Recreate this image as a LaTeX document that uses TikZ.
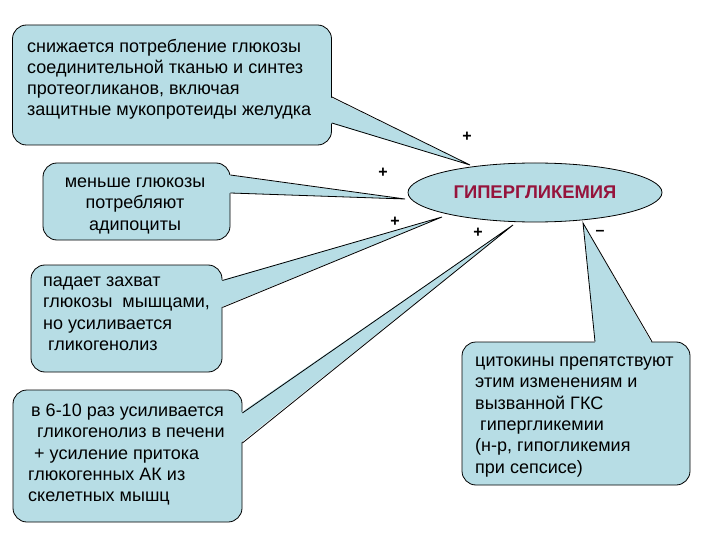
\documentclass[tikz,border=0pt]{standalone}
\usepackage{fontspec}
\setmainfont{Liberation Sans}
\usetikzlibrary{shapes.geometric,calc}
\definecolor{boxfill}{RGB}{183,221,229}
\definecolor{hypred}{RGB}{150,20,60}
\begin{document}
\begin{tikzpicture}[x=1pt,y=-1pt,
  callbox/.style={draw=black,line width=0.8pt,fill=boxfill,rounded corners=14pt,inner sep=0pt},
  txt/.style={font=\fontsize{18}{21.3}\selectfont,align=left,inner sep=0pt,anchor=base west},
  tailfill/.style={fill=boxfill},
  tailline/.style={draw=black,line width=0.8pt,line join=miter},
  sign/.style={font=\fontsize{16}{16}\selectfont\bfseries,inner sep=0pt}]
\useasboundingbox[fill=white] (0,0) rectangle (720,540);

% ellipse
\node[ellipse,draw=black,line width=0.8pt,fill=boxfill,minimum width=254pt,minimum height=59pt,inner sep=0pt,
  font=\fontsize{18.4}{18.4}\selectfont\bfseries,text=hypred] (hyp) at (535,192.5) {ГИПЕРГЛИКЕМИЯ};

% boxes
\node[callbox,minimum width=319pt,minimum height=120pt] (b1) at (172,85) {};
\node[callbox,minimum width=187pt,minimum height=77pt] (b2) at (136.5,201.5) {};
\node[callbox,minimum width=191pt,minimum height=107pt] (b3) at (126.5,318.5) {};
\node[callbox,minimum width=229pt,minimum height=132pt] (b4) at (127.5,456) {};
\node[callbox,minimum width=228pt,minimum height=143pt] (b5) at (576,413.5) {};

% tail coordinates
\coordinate (t1) at (470,165);
\coordinate (t2) at (405,199);
\coordinate (t3) at (442,217);
\coordinate (t4) at (513,225);
\coordinate (t5) at (583,223);
\coordinate (b1a) at ($(b1.east)+(0,12)$);
\coordinate (b1b) at ($(b1.east)+(0,38)$);
\coordinate (b2a) at ($(b2.east)+(0,-26.5)$);
\coordinate (b2b) at ($(b2.east)+(0,-8.5)$);
\coordinate (b3a) at ($(b3.east)+(0,-38)$);
\coordinate (b3b) at ($(b3.east)+(0,-11)$);
\coordinate (b4a) at ($(b4.east)+(0,-43)$);
\coordinate (b4b) at ($(b4.east)+(0,-13)$);
\coordinate (b5a) at ($(b5.north)+(19,0)$);
\coordinate (b5b) at ($(b5.north)+(76,0)$);

% tails
\foreach \a/\t/\b in {b1a/t1/b1b,b2a/t2/b2b,b3a/t3/b3b,b4a/t4/b4b}{
  \fill[tailfill] ($(\a)+(-2,0)$) -- (\t) -- ($(\b)+(-2,0)$) -- cycle;
  \draw[tailline] (\a) -- (\t) -- (\b);
}
\fill[tailfill] ($(b5a)+(0,2)$) -- (t5) -- ($(b5b)+(0,2)$) -- cycle;
\draw[tailline] (b5a) -- (t5) -- (b5b);

% texts (anchored at the baseline of the last line)
\node[txt] (x1) at (27,116) {снижается потребление глюкозы\\соединительной тканью и синтез\\протеогликанов, включая\\защитные мукопротеиды желудка};
\node[txt,align=center,anchor=base] (x2) at (135,230.2) {меньше глюкозы\\потребляют\\адипоциты};
\node[txt] (x3) at (43,350.5) {падает захват\\глюкозы\ \ мышцами,\\но усиливается\\\hspace*{5pt}гликогенолиз};
\node[txt] (x4) at (28,501.8) {\hspace*{3pt}в 6-10 раз усиливается\\\hspace*{9pt}гликогенолиз в печени\\\hspace*{6pt}+ усиление притока\\глюкогенных АК из\\скелетных мышц};
\node[txt] (x5) at (475,473.1) {цитокины препятствуют\\этим изменениям и\\вызванной ГКС\\\hspace*{5pt}гипергликемии\\(н-р, гипогликемия\\при сепсисе)};

% signs
\node[sign] (p1) at (467,137) {+};
\node[sign] (p2) at (383,173) {+};
\node[sign] (p3) at (395,222) {+};
\node[sign] (p4) at (478,233) {+};
\node[sign] (m1) at (600,233) {–};
\end{tikzpicture}
\end{document}
